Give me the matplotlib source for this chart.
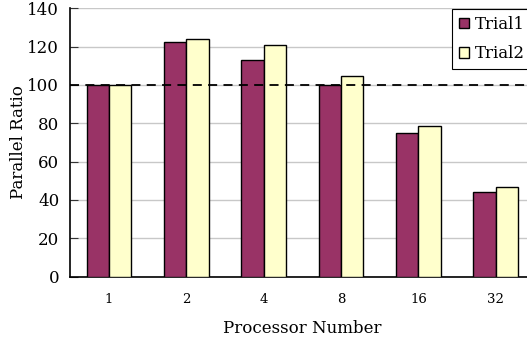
import numpy as np
import matplotlib
matplotlib.use('Agg')
import matplotlib.pyplot as plt

# data
procs = ['1', '2', '4', '8', '16', '32']
trial1 = [100, 122.6, 112.9, 100, 75.1, 44.0]
trial2 = [100, 123.8, 121.0, 104.8, 78.4, 46.6]

plt.rcParams['font.family'] = 'DejaVu Serif'

fig = plt.figure(figsize=(5.27, 3.42), dpi=100)
ax = fig.add_axes([70.3 / 527, 1 - 276.5 / 342, (534.4 - 70.3) / 527, (276.5 - 8.3) / 342])

x = np.arange(len(procs))
w = 0.29
ax.bar(x - w / 2, trial1, w, color='#993366', edgecolor='black', linewidth=1, label='Trial1', zorder=3)
ax.bar(x + w / 2, trial2, w, color='#FFFFCC', edgecolor='black', linewidth=1, label='Trial2', zorder=3)

ax.axhline(100, color='black', linestyle=(0, (5, 3.5)), linewidth=1.3, zorder=4)

ax.set_xlim(-0.5, len(procs) - 0.5)
ax.set_ylim(0, 140)
ax.set_yticks(np.arange(0, 141, 20))
ax.set_xticks(x)
ax.set_xticklabels(procs, fontsize=9.5)
ax.tick_params(axis='y', labelsize=12, direction='in', length=6, color='#333333', pad=8)
ax.tick_params(axis='x', length=0, pad=12)
ax.yaxis.grid(True, color='#c8c8c8', linewidth=1, zorder=0)
ax.set_axisbelow(True)

for s in ['top', 'right']:
    ax.spines[s].set_visible(False)
ax.spines['left'].set_linewidth(1.2)
ax.spines['bottom'].set_linewidth(1.2)

ax.set_xlabel('Processor Number', fontsize=12, labelpad=10)
ax.set_ylabel('Parallel Ratio', fontsize=12, labelpad=0)

leg = fig.legend(loc='upper left', bbox_to_anchor=(452 / 527, 1 - 9 / 342), fontsize=12,
                 handlelength=0.6, handleheight=0.6, handletextpad=0.35, borderpad=0.4,
                 labelspacing=0.75, borderaxespad=0, fancybox=False, framealpha=1,
                 edgecolor='black')
leg.get_frame().set_linewidth(0.8)

fig.savefig('out.png', dpi=100)
